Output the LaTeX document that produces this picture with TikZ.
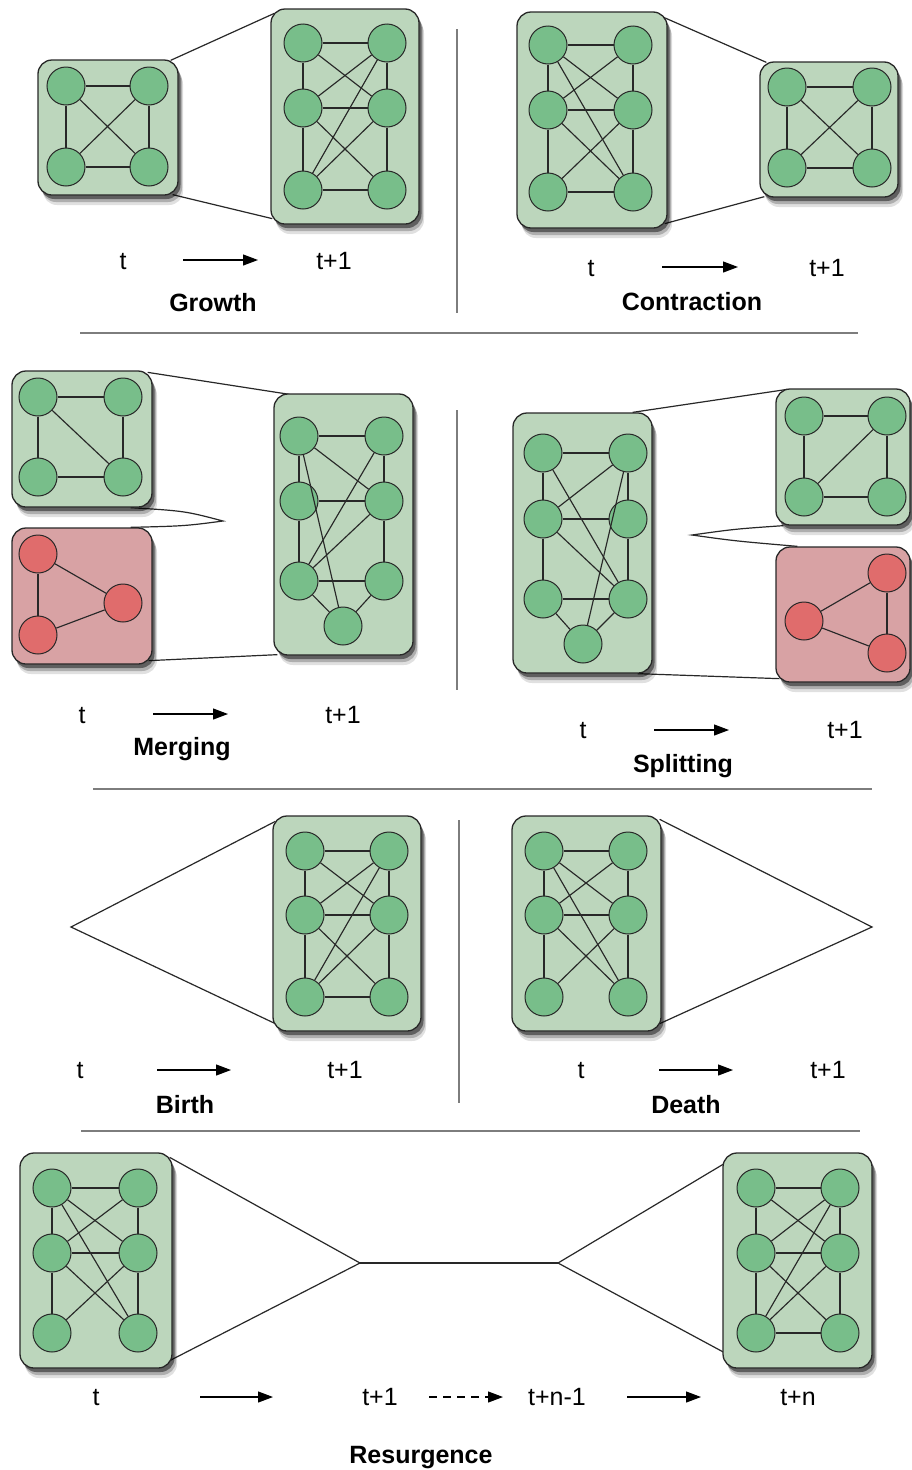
\documentclass[tikz,border=0pt]{standalone}
\usepackage{fontspec}
\setmainfont{Liberation Sans}
\usetikzlibrary{arrows.meta,shadows}
\definecolor{boxg}{RGB}{188,214,188}
\definecolor{nodeg}{RGB}{120,190,138}
\definecolor{boxr}{RGB}{216,162,164}
\definecolor{noder}{RGB}{224,108,108}
\definecolor{ink}{RGB}{40,40,40}
\definecolor{rulec}{RGB}{125,125,125}
\pgfdeclarelayer{paper}\pgfdeclarelayer{conn}\pgfdeclarelayer{boxes}\pgfdeclarelayer{edges}
\pgfsetlayers{paper,conn,boxes,edges,main}
\tikzset{
  cbox/.style={draw=ink, line width=1.3pt, rounded corners=14pt, inner sep=0pt,
    drop shadow={shadow xshift=5pt,shadow yshift=-10pt,opacity=0.12,fill=black},
    drop shadow={shadow xshift=4pt,shadow yshift=-7pt,opacity=0.22,fill=black},
    drop shadow={shadow xshift=2.5pt,shadow yshift=-4pt,opacity=0.45,fill=black}},
  gbox/.style={cbox, fill=boxg},
  rbox/.style={cbox, fill=boxr},
  gn/.style={circle, draw=ink, line width=1pt, fill=nodeg, minimum size=38pt, inner sep=0pt},
  rn/.style={gn, fill=noder},
  edge/.style={draw=ink, line width=1.15pt},
  link/.style={draw=ink, line width=1.2pt},
  divider/.style={draw=rulec, line width=1.4pt},
  arr/.style={draw=black, line width=1.2pt, -{Triangle[length=15pt,width=11pt]}},
  lab/.style={font=\fontsize{25}{30}\selectfont, anchor=base, inner sep=0pt},
  ttl/.style={font=\fontsize{25}{30}\selectfont\bfseries, anchor=base, inner sep=0pt},
}
\newcommand\FourN[6]{%
  \node[#1] (#2tl) at (#3,#5) {}; \node[#1] (#2tr) at (#4,#5) {};
  \node[#1] (#2bl) at (#3,#6) {}; \node[#1] (#2br) at (#4,#6) {};}
\newcommand\SixN[6]{%
  \node[gn] (#1tl) at (#2,#4) {}; \node[gn] (#1tr) at (#3,#4) {};
  \node[gn] (#1ml) at (#2,#5) {}; \node[gn] (#1mr) at (#3,#5) {};
  \node[gn] (#1bl) at (#2,#6) {}; \node[gn] (#1br) at (#3,#6) {};}
\newcommand\EdgeList[2]{\foreach \a/\b in {#2} {\draw[edge] (#1\a) -- (#1\b);}}
\begin{document}
\begin{tikzpicture}[x=1pt,y=-1pt]
\begin{pgfonlayer}{paper}
\fill[white] (0,0) rectangle (911,1470);
\end{pgfonlayer}
\useasboundingbox (0,0) rectangle (911,1470);

% ---------------- boxes ----------------
\begin{pgfonlayer}{boxes}
\node[gbox, minimum width=140pt, minimum height=135pt] (GA) at (108,127.5) {};
\node[gbox, minimum width=148pt, minimum height=215pt] (GB) at (345,116.5) {};
\node[gbox, minimum width=150pt, minimum height=216pt] (CA) at (592,120) {};
\node[gbox, minimum width=138pt, minimum height=135pt] (CB) at (829,129.5) {};
\node[gbox, minimum width=140pt, minimum height=136pt] (MA) at (82,439) {};
\node[rbox, minimum width=140pt, minimum height=136pt] (MX) at (82,596) {};
\node[gbox, minimum width=139pt, minimum height=261pt] (MB) at (343.5,524.5) {};
\node[gbox, minimum width=139pt, minimum height=260pt] (SA) at (582.5,543) {};
\node[gbox, minimum width=134pt, minimum height=136pt] (SB) at (843,457) {};
\node[rbox, minimum width=134pt, minimum height=135pt] (SX) at (843,614.5) {};
\node[gbox, minimum width=148pt, minimum height=215pt] (BB) at (347,923.5) {};
\node[gbox, minimum width=149pt, minimum height=215pt] (DA) at (586.5,923.5) {};
\node[gbox, minimum width=152pt, minimum height=215pt] (RA) at (96,1260.5) {};
\node[gbox, minimum width=149pt, minimum height=215pt] (RB) at (797.5,1260.5) {};
\end{pgfonlayer}

% ---------------- graph nodes ----------------
\FourN{gn}{ga}{66}{149}{86}{167}
\SixN{gb}{303}{387}{43}{108}{190}
\SixN{ca}{548}{633}{45}{110}{192}
\FourN{gn}{cb}{787}{872}{87}{168}
\FourN{gn}{ma}{38}{123}{397}{477}
\node[rn] (mx1) at (38,554) {};
\node[rn] (mx2) at (123,603) {};
\node[rn] (mx3) at (38,635) {};
\SixN{mb}{299}{384}{436}{501}{581}
\node[gn] (mbb) at (343,626) {};
\SixN{sa}{543}{628}{453}{519}{599}
\node[gn] (sab) at (583,644) {};
\FourN{gn}{sb}{804}{887}{416}{497}
\node[rn] (sx1) at (887,573) {};
\node[rn] (sx2) at (804,621) {};
\node[rn] (sx3) at (887,653) {};
\SixN{bb}{305}{389}{851}{915}{997}
\SixN{da}{544}{628}{851}{915}{997}
\SixN{ra}{52}{138}{1188}{1253}{1333}
\SixN{rb}{756}{840}{1188}{1253}{1333}

% ---------------- graph edges ----------------
\begin{pgfonlayer}{edges}
\EdgeList{ga}{tl/tr,tl/bl,tr/br,bl/br,tl/br,tr/bl}
\EdgeList{gb}{tl/tr,tl/ml,tr/mr,ml/mr,ml/bl,mr/br,bl/br,tl/mr,tr/ml,tr/bl,ml/br,mr/bl}
\EdgeList{ca}{tl/tr,tl/ml,tr/mr,ml/mr,ml/bl,mr/br,bl/br,tl/mr,tl/br,tr/ml,ml/br,bl/mr}
\EdgeList{cb}{tl/tr,tl/bl,tr/br,bl/br,tl/br,tr/bl}
\EdgeList{ma}{tl/tr,tl/bl,tr/br,bl/br,tl/br}
\EdgeList{mx}{1/2,2/3,3/1}
\EdgeList{mb}{tl/tr,tl/ml,tr/mr,ml/mr,ml/bl,mr/br,bl/br,bl/b,br/b,tl/mr,tr/bl,mr/bl}
\EdgeList{sa}{tl/tr,tl/ml,tr/mr,ml/mr,ml/bl,mr/br,bl/br,bl/b,br/b,tr/ml,tl/br,ml/br}
\EdgeList{sb}{tl/tr,tl/bl,tr/br,bl/br,bl/tr}
\EdgeList{sx}{1/2,2/3,3/1}
\EdgeList{bb}{tl/tr,tl/ml,tr/mr,ml/mr,ml/bl,mr/br,bl/br,tl/mr,tr/ml,tr/bl,ml/br,mr/bl}
\EdgeList{da}{tl/tr,tl/ml,tr/mr,ml/mr,ml/bl,mr/br,tl/mr,tl/br,tr/ml,ml/br,bl/mr}
\EdgeList{ra}{tl/tr,tl/ml,tr/mr,ml/mr,ml/bl,mr/br,tl/mr,tl/br,tr/ml,ml/br,bl/mr}
\EdgeList{rb}{tl/tr,tl/ml,tr/mr,ml/mr,ml/bl,mr/br,bl/br,tl/mr,tr/ml,tr/bl,ml/br,mr/bl}
\end{pgfonlayer}
% edges that cross over a circle
\draw[edge] (mbtl) -- (mbb);
\draw[edge] (satr) -- (sab);

% ---------------- connectors between boxes ----------------
\begin{pgfonlayer}{conn}
\draw[link] ([xshift=-8pt,yshift=-1pt]GA.north east) -- ([xshift=4pt,yshift=-5pt]GB.north west);
\draw[link] ([xshift=-6pt,yshift=1pt]GA.south east) -- ([xshift=2pt,yshift=6pt]GB.south west);
\draw[link] ([xshift=-4pt,yshift=-6pt]CA.north east) -- ([xshift=7pt,yshift=-1pt]CB.north west);
\draw[link] ([xshift=-3pt,yshift=5pt]CA.south east) -- ([xshift=5pt,yshift=1pt]CB.south west);
\draw[link] ([xshift=-5pt,yshift=-2pt]MA.north east) -- ([xshift=16pt,yshift=-1pt]MB.north west);
\draw[link] ([xshift=-4pt,yshift=4pt]MX.south east) -- ([xshift=4pt,yshift=1pt]MB.south west);
\coordinate (mtip) at (223,521);
\draw[link] ([xshift=-22pt]MA.south east) .. controls (185,511) .. (mtip) .. controls (185,526) .. ([xshift=-22pt]MX.north east);
\draw[link] ([xshift=-20pt]SA.north east) -- ([xshift=12pt,yshift=-1pt]SB.north west);
\draw[link] ([xshift=-15pt]SA.south east) -- ([xshift=4pt,yshift=4pt]SX.south west);
\coordinate (stip) at (692,535);
\draw[link] ([xshift=8pt]SB.south west) .. controls (735,529) .. (stip) .. controls (735,541) .. ([xshift=22pt]SX.north west);
\coordinate (bapex) at (71,927);
\draw[link] ([xshift=3pt,yshift=-6pt]BB.north west) -- (bapex) -- ([xshift=3pt,yshift=8pt]BB.south west);
\coordinate (dapex) at (872,927);
\draw[link] ([xshift=-2pt,yshift=-4pt]DA.north east) -- (dapex) -- ([xshift=-2pt,yshift=8pt]DA.south east);
\coordinate (rp1) at (360,1263);
\coordinate (rp2) at (558,1263);
\draw[link] ([xshift=-3pt,yshift=-5pt]RA.north east) -- (rp1) -- ([xshift=-3pt,yshift=8pt]RA.south east);
\draw[link] (rp1) -- (rp2);
\draw[link] ([xshift=4pt,yshift=-10pt]RB.north west) -- (rp2) -- ([xshift=4pt,yshift=15pt]RB.south west);
\end{pgfonlayer}

% ---------------- dividers ----------------
\draw[divider] (457,29) -- (457,313);
\draw[divider] (457,410) -- (457,690);
\draw[divider] (459,820) -- (459,1103);
\draw[divider] (80,333) -- (858,333);
\draw[divider] (93,789) -- (872,789);
\draw[divider] (81,1131) -- (860,1131);

% ---------------- labels and arrows ----------------
\node[lab] (g-t) at (123,269) {t};
\node[lab] (g-t1) at (334,269) {t+1};
\node[ttl] (g-title) at (213,311) {Growth};
\coordinate (ga0) at (183,260); \coordinate (ga1) at (258,260);
\draw[arr] (ga0) -- (ga1);

\node[lab] (c-t) at (591,276) {t};
\node[lab] (c-t1) at (827,276) {t+1};
\node[ttl] (c-title) at (692,310) {Contraction};
\coordinate (ca0) at (662,267); \coordinate (ca1) at (738,267);
\draw[arr] (ca0) -- (ca1);

\node[lab] (m-t) at (82,723) {t};
\node[lab] (m-t1) at (343,723) {t+1};
\node[ttl] (m-title) at (182,755) {Merging};
\coordinate (ma0) at (153,714); \coordinate (ma1) at (228,714);
\draw[arr] (ma0) -- (ma1);

\node[lab] (s-t) at (583,738) {t};
\node[lab] (s-t1) at (845,738) {t+1};
\node[ttl] (s-title) at (683,772) {Splitting};
\coordinate (sa0) at (654,730); \coordinate (sa1) at (729,730);
\draw[arr] (sa0) -- (sa1);

\node[lab] (b-t) at (80,1078) {t};
\node[lab] (b-t1) at (345,1078) {t+1};
\node[ttl] (b-title) at (185,1113) {Birth};
\coordinate (ba0) at (157,1070); \coordinate (ba1) at (231,1070);
\draw[arr] (ba0) -- (ba1);

\node[lab] (d-t) at (581,1078) {t};
\node[lab] (d-t1) at (828,1078) {t+1};
\node[ttl] (d-title) at (686,1113) {Death};
\coordinate (da0) at (659,1070); \coordinate (da1) at (733,1070);
\draw[arr] (da0) -- (da1);

\node[lab] (r-t) at (96,1405) {t};
\node[lab] (r-t1) at (380,1405) {t+1};
\node[lab] (r-tn1) at (557,1405) {t+n-1};
\node[lab] (r-tn) at (798,1405) {t+n};
\node[ttl] (r-title) at (421,1463) {Resurgence};
\coordinate (ra0) at (200,1397); \coordinate (ra1) at (273,1397);
\coordinate (ra2) at (429,1397); \coordinate (ra3) at (503,1397);
\coordinate (ra4) at (627,1397); \coordinate (ra5) at (701,1397);
\draw[arr] (ra0) -- (ra1);
\draw[arr, dash pattern=on 8pt off 6pt] (ra2) -- (ra3);
\draw[arr] (ra4) -- (ra5);
\end{tikzpicture}
\end{document}
